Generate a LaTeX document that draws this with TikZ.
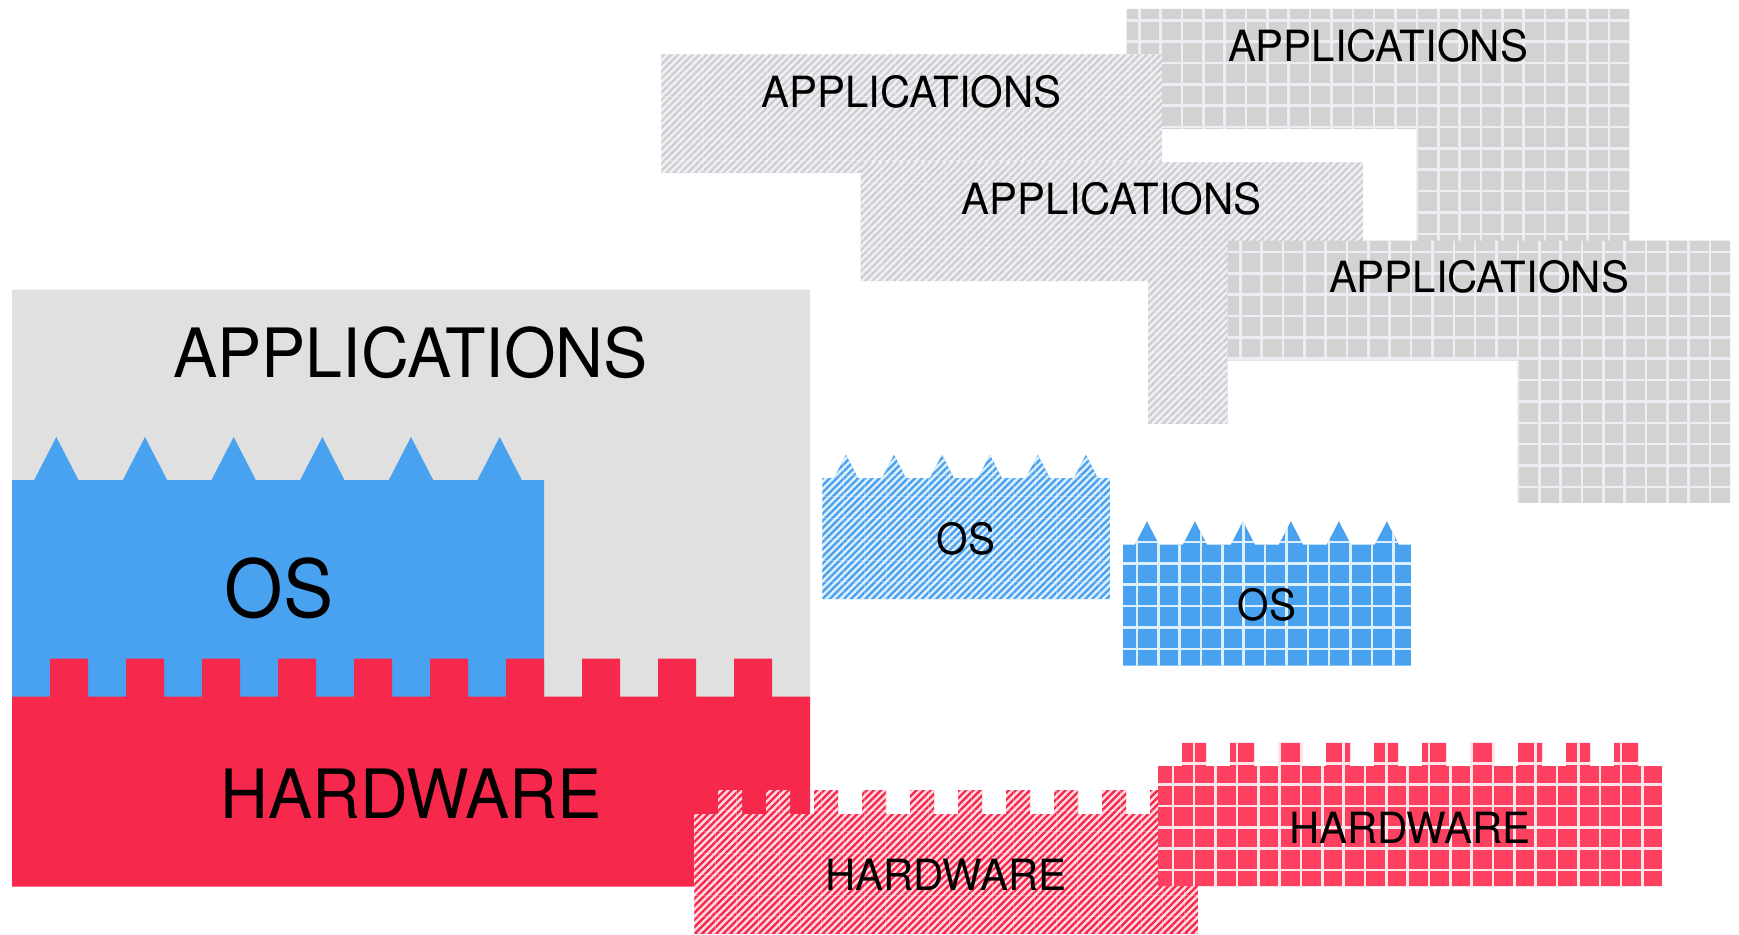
\documentclass[tikz,border=0pt]{standalone}
\usepackage{fontspec}
\setmainfont{TeX Gyre Heros}[FakeStretch=0.975]
\newfontfamily\osfamily{TeX Gyre Heros}[FakeStretch=0.94]

\definecolor{appgray}{HTML}{E0E0E0}
\definecolor{hatchgray}{HTML}{CFCFD3}
\definecolor{hatchgraylt}{HTML}{F0F0F4}
\definecolor{gridgray}{HTML}{D2D2D2}
\definecolor{gridgraylt}{HTML}{EDEDF3}
\definecolor{osblue}{HTML}{49A2EF}
\definecolor{osbluelt}{HTML}{DDEEFC}
\definecolor{hwred}{HTML}{F6284B}
\definecolor{hwredlt}{HTML}{FFD8E0}
\definecolor{gridred}{HTML}{FE4060}
\definecolor{gridredlt}{HTML}{FFE4EA}

% Layer outlines: (x, y of body top-left, scale); y grows downwards
\newcommand\hwshape[3]{(#1,#2) foreach \i in {0,...,9}{ -- ({#1+38*#3*(2*\i+1)},#2) -- ++(0,{-38*#3}) -- ++({38*#3},0) -- ++(0,{38*#3}) } -- ({#1+798*#3},#2) -- ({#1+798*#3},{#2+190*#3}) -- (#1,{#2+190*#3}) -- cycle}
\newcommand\osshape[3]{(#1,#2) foreach \i in {0,...,5}{ -- ({#1+88.667*#3*(\i+0.25)},#2) -- ({#1+88.667*#3*(\i+0.5)},{#2-43*#3}) -- ({#1+88.667*#3*(\i+0.75)},#2) } -- ({#1+532*#3},#2) -- ({#1+532*#3},{#2+224*#3}) -- (#1,{#2+224*#3}) -- cycle}
\newcommand\appshape[3]{(#1,#2) -- ({#1+798*#3},#2) -- ({#1+798*#3},{#2+416*#3}) -- ({#1+460*#3},{#2+416*#3}) -- ({#1+460*#3},{#2+190.5*#3}) -- (#1,{#2+190.5*#3}) -- cycle}

% Striped fill: path, base, stripe colour, xmin, ymin, xmax, ymax
\newcommand\hatchedfill[7]{%
  \begin{scope}
    \clip #1;
    \fill[#2] (#4,#5) rectangle (#6,#7);
    \pgfmathsetmacro\hh{#7-#5}
    \pgfmathtruncatemacro\nn{(#6-#4+\hh)/7.1+1}
    \foreach \k in {0,...,\nn}
      \draw[#3, line width=2.4pt] ({#4-\hh+7.1*\k},#7) -- ++(\hh,-\hh);
    \foreach \k in {0,...,30}{
      \draw[white, opacity=0.25, line width=0.8pt] ({#4+21.3*\k},#5) -- ({#4+21.3*\k},#7);
      \draw[white, opacity=0.25, line width=0.8pt] (#4,{#5+21.3*\k}) -- (#6,{#5+21.3*\k});
    }
  \end{scope}}

% Tiled fill: path, base, line colour, xmin, ymin, xmax, ymax, first column x, first row y
\newcommand\griddedfill[9]{%
  \begin{scope}
    \clip #1;
    \fill[#2] (#4,#5) rectangle (#6,#7);
    \pgfmathtruncatemacro\nx{(#6-#8)/21.35+1}
    \pgfmathtruncatemacro\ny{(#7-#9)/21.35+1}
    \foreach \k in {0,...,\nx}
      \draw[#3, line width=2.6pt] ({#8+21.35*\k},#5) -- ({#8+21.35*\k},#7);
    \foreach \k in {0,...,\ny}
      \draw[#3, line width=2.6pt] (#4,{#9+21.35*\k}) -- (#6,{#9+21.35*\k});
  \end{scope}}

\tikzset{
  bigtext/.style={inner sep=0pt, anchor=base, font=\fontsize{68}{80}\selectfont},
  ostext/.style={inner sep=0pt, anchor=base, font=\osfamily\fontsize{80}{94}\selectfont},
  smalltext/.style={inner sep=0pt, anchor=base, font=\fontsize{43}{52}\selectfont},
  smallostext/.style={inner sep=0pt, anchor=base, font=\osfamily\fontsize{43}{52}\selectfont}
}

\begin{document}
\begin{tikzpicture}[x=1pt, y=-1pt]
\useasboundingbox (0,0) rectangle (1739,934);

% Solid stack
\fill[appgray] \appshape{12}{289.5}{1};
\fill[osblue] \osshape{12}{480}{1};
\fill[hwred] \hwshape{12}{696.5}{1};
\node[bigtext] (appMain) at (410.5,377) {APPLICATIONS};
\node[ostext] (osMain) at (279,617.7) {OS};
\node[bigtext] (hwMain) at (411,818) {HARDWARE};

% Application layers
\griddedfill{\appshape{1126.7}{8.9}{0.63}}{gridgray}{gridgraylt}{1126}{8}{1631}{272}{1139.3}{20.3}
\hatchedfill{(661,54.3) rectangle (1162,173)}{hatchgray}{hatchgraylt}{661}{54}{1162}{173}
\hatchedfill{(860.6,162) -- (1363,162) -- (1363,281) -- (1227.7,281) -- (1227.7,424) -- (1148,424) -- (1148,281) -- (860.6,281) -- cycle}{hatchgray}{hatchgraylt}{860}{162}{1363}{424}
\griddedfill{\appshape{1227.7}{240.7}{0.63}}{gridgray}{gridgraylt}{1227}{240}{1731}{504}{1240.3}{252}
\node[smalltext] (appA) at (1378,62) {APPLICATIONS};
\node[smalltext] (appB) at (911.6,107.6) {APPLICATIONS};
\node[smalltext] (appC) at (1111.8,214) {APPLICATIONS};
\node[smalltext] (appD) at (1479,292.8) {APPLICATIONS};

% OS layers
\hatchedfill{\osshape{822}{478}{0.541}}{osblue}{osbluelt}{822}{454}{1111}{600}
\griddedfill{\osshape{1123}{544.5}{0.541}}{osblue}{osbluelt}{1123}{520}{1412}{667}{1137}{520.7}
\node[smallostext] (osA) at (966,554.5) {OS};
\node[smallostext] (osB) at (1267,620) {OS};

% Hardware layers
\hatchedfill{\hwshape{694}{814}{0.6316}}{hwred}{hwredlt}{694}{789}{1199}{934}
\griddedfill{\hwshape{1158}{766}{0.6316}}{gridred}{gridredlt}{1158}{741}{1663}{887}{1172.8}{720.6}
\node[smalltext] (hwA) at (946,890.5) {HARDWARE};
\node[smalltext] (hwB) at (1410,843) {HARDWARE};
\end{tikzpicture}
\end{document}
